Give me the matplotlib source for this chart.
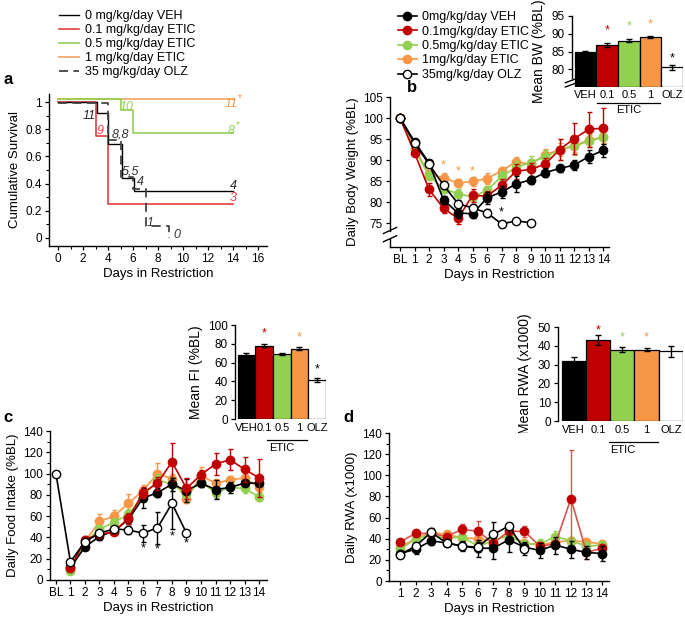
import matplotlib
matplotlib.use("Agg")
import matplotlib.pyplot as plt
import matplotlib.transforms as mtransforms
from matplotlib.lines import Line2D
import numpy as np

plt.rcParams['font.family'] = ['Liberation Sans', 'DejaVu Sans']
plt.rcParams['axes.linewidth'] = 1.0

# ---------------- data ----------------
groups = ["VEH", "0.1", "0.5", "1", "OLZ"]
legend_a = ["0 mg/kg/day VEH", "0.1 mg/kg/day ETIC", "0.5 mg/kg/day ETIC",
            "1 mg/kg/day ETIC", "35 mg/kg/day OLZ"]
legend_b = ["0mg/kg/day VEH", "0.1mg/kg/day ETIC", "0.5mg/kg/day ETIC",
            "1mg/kg/day ETIC", "35mg/kg/day OLZ"]

# panel a: Kaplan-Meier steps
surv_veh_days = [0, 3.1, 4.0, 5.1, 6.1, 14]
surv_veh = [1.0, 0.92, 0.69, 0.44, 0.345, 0.345]
surv_red_days = [0, 3.0, 4.0, 14]
surv_red = [1.0, 0.75, 0.25, 0.25]
surv_green_days = [0, 5.0, 6.0, 14]
surv_green = [1.0, 0.92, 0.75, 0.75]
surv_orange_days = [0, 14]
surv_orange = [1.0, 1.0]
surv_olz_days = [0, 4.0, 5.0, 6.0, 7.0, 8.9]
surv_olz = [0.99, 0.72, 0.45, 0.36, 0.09, 0.0]

# panel b: daily body weight (%BL), index 0 = BL
bw_veh = [100, 94.4, 89.3, 80.5, 77.4, 77.2, 81.0, 82.4, 84.3, 85.3, 87.0, 88.0, 88.8, 90.8, 92.3]
bw_veh_err = [0, 0.6, 0.8, 1.0, 1.2, 1.0, 1.5, 1.5, 1.8, 1.0, 1.0, 0.9, 1.2, 1.5, 1.5]
bw_red = [100, 91.7, 83.0, 78.5, 76.1, 81.6, 81.4, 84.0, 87.3, 87.8, 89.0, 92.5, 95.1, 97.3, 97.6]
bw_red_err = [0, 0.7, 1.5, 1.0, 1.3, 1.5, 1.3, 1.5, 1.8, 1.5, 1.5, 2.5, 3.6, 4.1, 4.7]
bw_green = [100, 92.4, 86.3, 83.1, 82.0, 81.2, 82.8, 86.1, 88.3, 89.4, 90.8, 92.4, 93.3, 94.5, 95.4]
bw_green_err = [0, 0.7, 1.0, 1.0, 1.0, 1.0, 1.0, 1.2, 1.5, 1.5, 1.5, 2.5, 2.0, 1.5, 1.5]
bw_orange = [100, 92.8, 86.6, 85.8, 84.5, 84.9, 85.6, 87.4, 89.6, 89.0, 91.2, 92.5, 93.4, 94.7, 95.5]
bw_orange_err = [0, 0.7, 1.0, 1.0, 1.0, 1.0, 1.2, 1.0, 1.2, 1.2, 1.5, 1.5, 1.5, 1.5, 1.5]
bw_olz = [100, 94.0, 89.0, 84.0, 79.6, 78.6, 77.4, 74.8, 75.5, 75.1]
bw_olz_err = [0, 0.5, 0.6, 0.8, 1.0, 0.9, 1.0, 0.8, 0.5, 0.5]
bw_star_orange_days = [3, 4, 5]
bw_star_orange_y = [88.8, 87.3, 87.3]
bw_star_olz_days = [7]
bw_star_olz_y = [77.6]

mean_bw = [84.8, 86.8, 88.0, 89.1, 80.6]
mean_bw_err = [0.4, 0.6, 0.4, 0.3, 0.7]
mean_bw_star = [None, 91.0, 92.0, 92.7, 83.0]

# panel c: daily food intake (%BL)
fi_veh = [12, 31, 41, 46, 57, 77, 82, 90, 84, 91, 85, 87, 91, 91]
fi_veh_err = [2, 3, 3, 3, 4, 9, 4, 6, 11, 4, 9, 5, 3, 3]
fi_red = [11, 38, 43, 45, 58, 82, 91, 111, 86, 99, 109, 113, 104, 96]
fi_red_err = [2, 3, 3, 3, 5, 5, 6, 18, 10, 4, 10, 10, 12, 18]
fi_green = [8, 35, 48, 54, 62, 78, 94, 90, 81, 92, 82, 87, 86, 78]
fi_green_err = [2, 3, 4, 4, 5, 5, 6, 6, 5, 5, 5, 5, 4, 4]
fi_orange = [10, 36, 55, 60, 72, 84, 100, 95, 76, 98, 91, 94, 96, 87]
fi_orange_err = [2, 3, 7, 6, 9, 5, 10, 5, 4, 8, 4, 4, 4, 4]
fi_olz = [100, 17, 36, 44, 48, 47, 44, 49, 72, 44]
fi_olz_err = [0, 1, 2, 2, 3, 4, 8, 15, 24, 0]
fi_star_days = [6, 7, 8, 9]
fi_star_y = [29.7, 28.7, 40.6, 34.4]

mean_fi = [68.5, 78.0, 69.5, 75.0, 41.5]
mean_fi_err = [1.2, 1.5, 1.0, 2.0, 2.0]
mean_fi_star = [None, 90.5, None, 86.5, 52.5]

# panel d: daily RWA (x1000)
rwa_veh = [26, 30, 38, 36, 33, 31, 31, 39, 32, 29, 34, 30, 27, 26]
rwa_veh_err = [3, 4, 4, 3, 5, 8, 10, 12, 5, 7, 8, 8, 6, 7]
rwa_red = [37, 45, 45, 42, 49, 47, 36, 47, 47, 33, 35, 78, 27, 31]
rwa_red_err = [3, 3, 3, 3, 5, 10, 8, 5, 5, 4, 4, 46, 6, 4]
rwa_green = [30, 40, 44, 40, 42, 33, 38, 43, 35, 35, 42, 38, 33, 34]
rwa_green_err = [2, 3, 3, 3, 4, 5, 4, 4, 3, 5, 5, 4, 4, 3]
rwa_orange = [32, 40, 46, 44, 41, 40, 38, 44, 36, 34, 37, 38, 37, 35]
rwa_orange_err = [2, 3, 3, 3, 4, 4, 3, 4, 3, 3, 3, 3, 3, 3]
rwa_olz = [25, 33, 46, 36, 33, 32, 44, 52, 30]
rwa_olz_err = [2, 3, 4, 3, 4, 5, 12, 3, 5]

mean_rwa = [32.0, 43.0, 37.8, 38.0, 37.0]
mean_rwa_err = [2.0, 2.6, 1.3, 0.8, 2.8]
mean_rwa_star = [None, 48.0, 44.5, 44.5, None]

bl_ticks = ["BL"] + [str(i) for i in range(1, 15)]

# ---------------- style ----------------
C_BLACK = "#000000"
C_RED = "#c00000"
C_GREEN = "#92d050"
C_ORANGE = "#f79646"
C_RED_A = "#e04040"
C_GREEN_A = "#92d050"
C_ORANGE_A = "#f5b07a"
bar_colors = [C_BLACK, C_RED, C_GREEN, C_ORANGE, "white"]

W, H = 685, 619
fig = plt.figure(figsize=(W / 100, H / 100), dpi=100)


def ax_px(l, t, r, b):
    return fig.add_axes([l / W, 1 - b / H, (r - l) / W, (b - t) / H])


TICK = 8.5
LAB = 9.5


def style(ax):
    ax.spines['top'].set_visible(False)
    ax.spines['right'].set_visible(False)
    ax.tick_params(labelsize=TICK, length=3, width=0.9, direction='out', pad=2)


# ================= panel a =================
axa = ax_px(49, 94, 267, 246)
style(axa)
off = mtransforms.offset_copy(axa.transData, fig=fig, x=0, y=3, units='dots')
axa.plot(surv_orange_days, surv_orange, drawstyle='steps-post', color=C_ORANGE_A, lw=1.4, transform=off)
axa.plot(surv_green_days, surv_green, drawstyle='steps-post', color=C_GREEN_A, lw=1.2, transform=off)
axa.plot(surv_red_days, surv_red, drawstyle='steps-post', color=C_RED_A, lw=1.2)
axa.plot(surv_veh_days, surv_veh, drawstyle='steps-post', color=C_BLACK, lw=1.0)
axa.plot(surv_olz_days, surv_olz, drawstyle='steps-post', color='#444444', lw=1.3, ls=(0, (5, 3)))
axa.set_xlim(-0.72, 16.72)
axa.set_ylim(-0.06, 1.06)
axa.set_xticks(range(0, 17, 2))
axa.set_xticks(range(1, 17, 2), minor=True)
axa.set_yticks([0, 0.2, 0.4, 0.6, 0.8, 1])
axa.set_yticklabels(["0", "0.2", "0.4", "0.6", "0.8", "1"])
axa.set_yticks(np.arange(0.1, 1.0, 0.2), minor=True)
axa.tick_params(which='minor', length=2, width=0.8)
axa.spines['left'].set_bounds(-0.06, 1.06)
axa.set_xlabel("Days in Restriction", fontsize=LAB, labelpad=2)
axa.set_ylabel("Cumulative Survival", fontsize=LAB, labelpad=3)
ann = [("11", 2.5, 0.897, '#222222'), ("9", 3.36, 0.79, C_RED_A), ("8,8", 4.96, 0.765, '#333333'),
       ("5,5", 5.76, 0.49, '#333333'), ("4", 6.56, 0.41, '#333333'), ("1", 7.36, 0.11, '#333333'),
       ("0", 9.5, 0.02, '#333333'), ("10", 5.5, 0.965, C_GREEN_A), ("11", 13.85, 0.985, C_ORANGE),
       ("8", 13.85, 0.79, C_GREEN_A), ("4", 14.0, 0.38, '#222222'), ("3", 14.0, 0.29, C_RED_A)]
for t, x, y, c in ann:
    axa.text(x, y, t, fontsize=9, style='italic', color=c, ha='center', va='center')
axa.text(14.4, 1.03, "*", fontsize=7, color=C_ORANGE, ha='left', va='center')
axa.text(14.2, 0.83, "*", fontsize=7, color=C_GREEN_A, ha='left', va='center')
handles_a = [Line2D([], [], color=C_BLACK, lw=1.0), Line2D([], [], color=C_RED_A, lw=1.2),
             Line2D([], [], color=C_GREEN_A, lw=1.2), Line2D([], [], color=C_ORANGE_A, lw=1.4),
             Line2D([], [], color='#444444', lw=1.3, ls=(0, (5, 3)))]
fig.legend(handles_a, legend_a, loc='upper left', bbox_to_anchor=(59 / W, 1 - 10 / H), frameon=False,
           fontsize=9, handlelength=1.6, handletextpad=0.45, labelspacing=0.17, borderaxespad=0,
           borderpad=0)
fig.text(4 / W, 1 - 80 / H, "a", fontsize=12, fontweight='bold', va='center', ha='left')


# ================= helper for line panels =================
def series(ax, x, y, e, color, mfc, zorder, lcolor=None):
    ax.errorbar(x, y, yerr=e, color=lcolor or color, ecolor=lcolor or color, lw=1.2, elinewidth=1.0,
                capsize=1.8, capthick=1.0, marker='o', ms=6, mfc=mfc, mec=color if mfc != 'white' else 'black',
                mew=1.0, zorder=zorder, clip_on=False)


# ================= panel b =================
axb = ax_px(390, 97, 609, 247)
style(axb)
xb = np.arange(15)
series(axb, xb, bw_orange, bw_orange_err, C_ORANGE, C_ORANGE, 3)
series(axb, xb, bw_green, bw_green_err, C_GREEN, C_GREEN, 4)
series(axb, xb, bw_red, bw_red_err, C_RED, C_RED, 5)
series(axb, xb, bw_veh, bw_veh_err, C_BLACK, C_BLACK, 6)
series(axb, np.arange(len(bw_olz)), bw_olz, bw_olz_err, C_BLACK, 'white', 7)
for d, y in zip(bw_star_orange_days, bw_star_orange_y):
    axb.text(d, y, "*", color=C_ORANGE, fontsize=9, ha='center', va='center')
for d, y in zip(bw_star_olz_days, bw_star_olz_y):
    axb.text(d, y, "*", color='black', fontsize=9, ha='center', va='center')
axb.set_xlim(-0.69, 14.4)
axb.set_ylim(69.3, 105)
axb.set_yticks(range(75, 106, 5))
axb.set_xticks(xb)
axb.set_xticklabels(bl_ticks)
axb.set_xlabel("Days in Restriction", fontsize=LAB, labelpad=2)
axb.set_ylabel("Daily Body Weight (%BL)", fontsize=LAB, labelpad=3)
# axis break
axb.spines['left'].set_visible(False)
kw = dict(transform=axb.transAxes, color='black', lw=1.0, clip_on=False)
axb.plot([0, 0], [0.11, 1], **kw)
axb.plot([0, 0], [0, 0.055], **kw)
axb.plot([-0.03, 0.03], [0.035, 0.075], **kw)
axb.plot([-0.03, 0.03], [0.09, 0.13], **kw)
handles_b = [Line2D([], [], color=C_BLACK, marker='o', ms=6, mfc=C_BLACK, lw=1.2),
             Line2D([], [], color=C_RED, marker='o', ms=6, mfc=C_RED, lw=1.2),
             Line2D([], [], color=C_GREEN, marker='o', ms=6, mfc=C_GREEN, lw=1.2),
             Line2D([], [], color=C_ORANGE, marker='o', ms=6, mfc=C_ORANGE, lw=1.2),
             Line2D([], [], color=C_BLACK, marker='o', ms=6, mfc='white', lw=1.2)]
fig.legend(handles_b, legend_b, loc='upper left', bbox_to_anchor=(398 / W, 1 - 11 / H), frameon=False,
           fontsize=9, handlelength=1.5, handletextpad=0.4, labelspacing=0.2, borderaxespad=0,
           borderpad=0)
fig.text(407 / W, 1 - 87 / H, "b", fontsize=12, fontweight='bold', va='center', ha='left')


# ================= bar insets =================
def inset(rect, vals, errs, stars, ylim, yticks, ylabel, xl, brk=False):
    ax = ax_px(*rect)
    style(ax)
    xs = np.arange(5)
    b0 = ylim[0]
    ax.bar(xs, [v - b0 for v in vals], bottom=b0, width=1.0, color=bar_colors, edgecolor='black',
           linewidth=0.9, zorder=2)
    ax.errorbar(xs, vals, yerr=errs, fmt='none', ecolor='black', elinewidth=1.0, capsize=2.5,
                capthick=1.0, zorder=3)
    scol = [C_BLACK, C_RED, C_GREEN, C_ORANGE, C_BLACK]
    for i, s in enumerate(stars):
        if s is not None:
            ax.text(i, s, "*", color=scol[i], fontsize=9, ha='center', va='center')
    ax.set_xlim(xl, 4.5)
    ax.set_ylim(*ylim)
    ax.set_yticks(yticks)
    ax.set_xticks([])
    ax.spines['bottom'].set_visible(False)
    ax.set_ylabel(ylabel, fontsize=10, labelpad=4)
    tr = mtransforms.blended_transform_factory(ax.transData, ax.transAxes)
    for i, g in enumerate(groups):
        ax.text(i, -0.04, g, transform=tr, fontsize=8, ha='center', va='top')
    ax.plot([0.55, 3.45], [-0.22, -0.22], transform=tr, color='black', lw=0.9, clip_on=False)
    ax.text(2, -0.26, "ETIC", transform=tr, fontsize=8, ha='center', va='top')
    if brk:
        ax.spines['left'].set_visible(False)
        k = dict(transform=ax.transAxes, color='black', lw=1.0, clip_on=False)
        ax.plot([0, 0], [0.13, 1], **k)
        ax.plot([-0.06, 0.06], [0.0, 0.07], **k)
        ax.plot([-0.06, 0.06], [0.06, 0.13], **k)
    return ax


inset((572, 16, 683, 87), mean_bw, mean_bw_err, mean_bw_star, (75, 95), [80, 85, 90, 95],
      "Mean BW (%BL)", -0.62, brk=True)
inset((235, 325, 326, 419), mean_fi, mean_fi_err, mean_fi_star, (0, 100), range(0, 101, 20),
      "Mean FI (%BL)", -0.65)
inset((558, 327, 683, 421), mean_rwa, mean_rwa_err, mean_rwa_star, (0, 50), range(0, 51, 10),
      "Mean RWA (x1000)", -0.65)

# ================= panel c =================
axc = ax_px(50, 431, 267, 580)
style(axc)
xd = np.arange(1, 15)
series(axc, xd, fi_orange, fi_orange_err, C_ORANGE, C_ORANGE, 3)
series(axc, xd, fi_green, fi_green_err, C_GREEN, C_GREEN, 4)
series(axc, xd, fi_veh, fi_veh_err, C_BLACK, C_BLACK, 5)
series(axc, xd, fi_red, fi_red_err, C_RED, C_RED, 6)
series(axc, np.arange(len(fi_olz)), fi_olz, fi_olz_err, C_BLACK, 'white', 7)
for d, y in zip(fi_star_days, fi_star_y):
    axc.text(d, y, "*", color='black', fontsize=9, ha='center', va='center')
axc.set_xlim(-0.41, 14.55)
axc.set_ylim(0, 140)
axc.set_yticks(range(0, 141, 20))
axc.set_yticks(range(10, 141, 20), minor=True)
axc.tick_params(which='minor', length=2, width=0.8)
axc.set_xticks(np.arange(15))
axc.set_xticklabels(bl_ticks)
axc.set_xlabel("Days in Restriction", fontsize=LAB, labelpad=2)
axc.set_ylabel("Daily Food Intake (%BL)", fontsize=LAB, labelpad=3)
fig.text(3 / W, 1 - 418 / H, "c", fontsize=12, fontweight='bold', va='center', ha='left')

# ================= panel d =================
axd = ax_px(389, 433, 609, 581)
style(axd)
series(axd, xd, rwa_orange, rwa_orange_err, C_ORANGE, C_ORANGE, 3)
series(axd, xd, rwa_green, rwa_green_err, C_GREEN, C_GREEN, 4)
series(axd, xd, rwa_red, rwa_red_err, C_RED, C_RED, 5, lcolor='#d9534f')
series(axd, xd, rwa_veh, rwa_veh_err, C_BLACK, C_BLACK, 6)
series(axd, np.arange(1, len(rwa_olz) + 1), rwa_olz, rwa_olz_err, C_BLACK, 'white', 7)
axd.set_xlim(0.29, 14.45)
axd.set_ylim(0, 140)
axd.set_yticks(range(0, 141, 20))
axd.set_yticks(range(10, 141, 20), minor=True)
axd.tick_params(which='minor', length=2, width=0.8)
axd.set_xticks(xd)
axd.set_xlabel("Days in Restriction", fontsize=LAB, labelpad=2)
axd.set_ylabel("Daily RWA (x1000)", fontsize=LAB, labelpad=3)
fig.text(343 / W, 1 - 417 / H, "d", fontsize=12, fontweight='bold', va='center', ha='left')

fig.savefig("out.png", dpi=100)
